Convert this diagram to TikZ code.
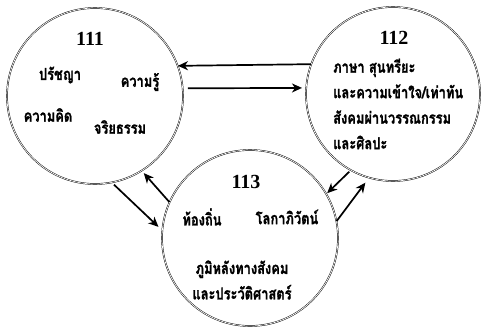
\documentclass[tikz,border=0pt]{standalone}
\usepackage{fontspec}
\newfontfamily\thaifont[Script=Thai, FakeStretch=0.78, BoldFeatures={FakeBold=1.2}]{Loma}
\newfontfamily\numfont{Liberation Serif}
\usetikzlibrary{arrows.meta}
\tikzset{
  bubble/.style={circle, draw, double, double distance=0.7pt, line width=0.45pt, inner sep=0pt},
  thtext/.style={font=\thaifont\bfseries\fontsize{16.5}{25.5}\selectfont, inner sep=0pt},
  numtext/.style={font=\numfont\bfseries\fontsize{20}{24}\selectfont, inner sep=0pt},
  link/.style={-{Stealth[length=10pt,width=9pt,inset=3pt]}, line width=1.7pt},
}
\begin{document}
\begin{tikzpicture}[x=1pt, y=-1pt]
  \useasboundingbox (0,0) rectangle (481,327);

  % Draw the three circles
  \node[bubble, minimum size=176pt] (c111) at (95,96) {}; % Circle 111
  \node[bubble, minimum size=174pt] (c112) at (393,94) {}; % Circle 112
  \node[bubble, minimum size=176pt] (c113) at (250,238) {}; % Circle 113

  % Texts of circle 111
  \node[numtext] (n111) at (90,39) {111};
  \node[thtext] (t111a) at (60,75) {ปรัชญา};
  \node[thtext] (t111b) at (140,82) {ความรู้};
  \node[thtext] (t111c) at (48,115) {ความคิด};
  \node[thtext] (t111d) at (120,127) {จริยธรรม};

  % Texts of circle 112
  \node[numtext] (n112) at (394,38) {112};
  \node[thtext, anchor=west, align=left] (t112) at (333,104)
    {ภาษา สุนทรียะ\\และความเข้าใจ/เท่าทัน\\สังคมผ่านวรรณกรรม\\และศิลปะ};

  % Texts of circle 113
  \node[numtext] (n113) at (246,182) {113};
  \node[thtext] (t113a) at (202,217) {ท้องถิ่น};
  \node[thtext] (t113b) at (287,217) {โลกาภิวัตน์};
  \node[thtext, align=center] (t113c) at (242,280) {ภูมิหลังทางสังคม\\และประวัติศาสตร์};

  % Arrows between the circles
  \draw[link] (c112.160) -- (c111.20); % 112 -> 111
  \draw[link, shorten <=5pt, shorten >=4pt] (c111.5) -- (c112.176); % 111 -> 112
  \draw[link, shorten <=3pt, shorten >=5pt] (c111.281) -- (c113.175); % 111 -> 113
  \draw[link, shorten >=3pt] (c113.156) -- (c111.302); % 113 -> 111
  \draw[link, shorten <=2pt, shorten >=1pt] (c112.241) -- (c113.30); % 112 -> 113
  \draw[link, shorten >=6pt] (c113.11) -- (c112.254); % 113 -> 112
\end{tikzpicture}
\end{document}
